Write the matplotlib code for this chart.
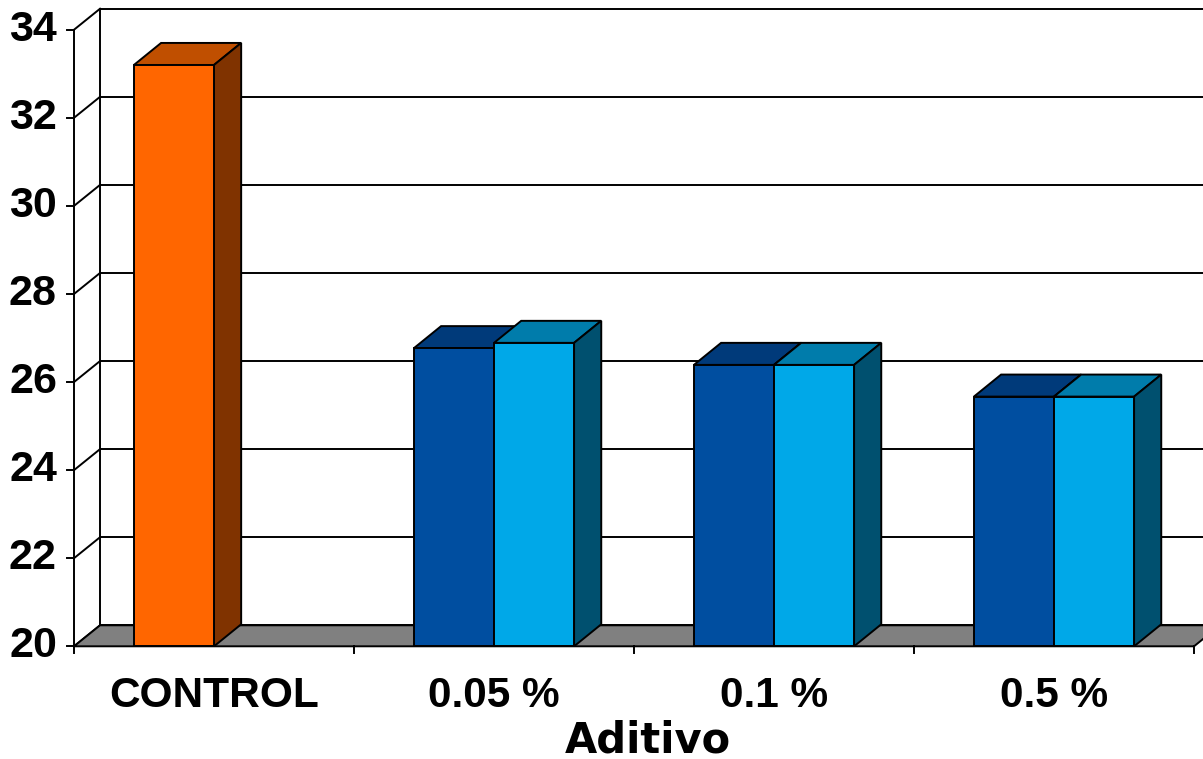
import matplotlib.pyplot as plt
from matplotlib.patches import Polygon
import numpy as np

# Data
categories = ['CONTROL', '0.05 %', '0.1 %', '0.5 %']
serie_a = [33.2, 26.77, 26.39, 25.67]          # first bar of each group
serie_b = [np.nan, 26.89, 26.39, 25.67]        # second bar (no control)
yticks = [20, 22, 24, 26, 28, 30, 32, 34]

# colours: (front, top, side)
orange = ('#FF6600', '#C04F00', '#803300')
dark_blue = ('#004EA0', '#003A7A', '#003A7A')
light_blue = ('#00A8E8', '#007CAB', '#00506F')

ymin, ymax = 20, 34
wall_dx, wall_dy = 0.093, 0.477    # oblique depth of walls/floor
bar_dx, bar_dy = 0.097, 0.50       # oblique depth of bars
width = 0.286
lw = 1.4

fig = plt.figure(figsize=(12.03, 7.59), dpi=100)
ax = fig.add_axes([0, 0, 1, 1])
ax.set_xlim(-0.7643, 3.5321)
ax.set_ylim(17.441, 34.675)
ax.axis('off')

x = np.arange(len(categories))
left, right = -0.5, len(categories) - 0.5

# back wall and its gridlines
for t in yticks:
    ax.plot([left + wall_dx, right + wall_dx + 1], [t + wall_dy] * 2, color='black', lw=lw, zorder=1)
    ax.plot([left, left + wall_dx], [t, t + wall_dy], color='black', lw=lw, zorder=1)
ax.plot([left + wall_dx] * 2, [ymin + wall_dy, ymax + wall_dy], color='black', lw=lw, zorder=1)
ax.plot([left, left], [ymin, ymax], color='black', lw=lw, zorder=1)

# floor
floor = Polygon([(left, ymin), (right, ymin), (right + wall_dx, ymin + wall_dy),
                 (left + wall_dx, ymin + wall_dy)], closed=True,
                facecolor='#808080', edgecolor='black', lw=lw, zorder=2)
ax.add_patch(floor)

# ticks
for t in yticks:
    ax.plot([left - 0.025, left], [t, t], color='black', lw=lw, zorder=2)
    ax.text(-0.561, t, str(t), ha='right', va='center', fontsize=31,
            fontweight='bold', family='Liberation Sans')
for b in np.arange(left, right + 0.5):
    ax.plot([b, b], [ymin, ymin - 0.16], color='black', lw=lw, zorder=2)


def bar3d(xl, val, cols, z):
    ax.bar(xl, val - ymin, width=width, bottom=ymin, align='edge',
           color=cols[0], edgecolor='black', lw=lw, zorder=z + 0.2)
    xr = xl + width
    top = Polygon([(xl, val), (xr, val), (xr + bar_dx, val + bar_dy), (xl + bar_dx, val + bar_dy)],
                  closed=True, facecolor=cols[1], edgecolor='black', lw=lw, zorder=z)
    side = Polygon([(xr, ymin), (xr + bar_dx, ymin + bar_dy), (xr + bar_dx, val + bar_dy), (xr, val)],
                   closed=True, facecolor=cols[2], edgecolor='black', lw=lw, zorder=z)
    ax.add_patch(top)
    ax.add_patch(side)


for i in x:
    cols_a = orange if i == 0 else dark_blue
    bar3d(i - width, serie_a[i], cols_a, 3 + i * 2)
    if not np.isnan(serie_b[i]):
        bar3d(i, serie_b[i], light_blue, 4 + i * 2)

for i, c in enumerate(categories):
    ax.text(i, 18.871, c, ha='center', va='center', fontsize=30.5,
            fontweight='bold', family='Liberation Sans')

ax.text(1.55, 17.87, 'Aditivo', ha='center', va='center', fontsize=30,
        fontweight='bold', family='DejaVu Sans')

plt.savefig('out.png', dpi=100)
